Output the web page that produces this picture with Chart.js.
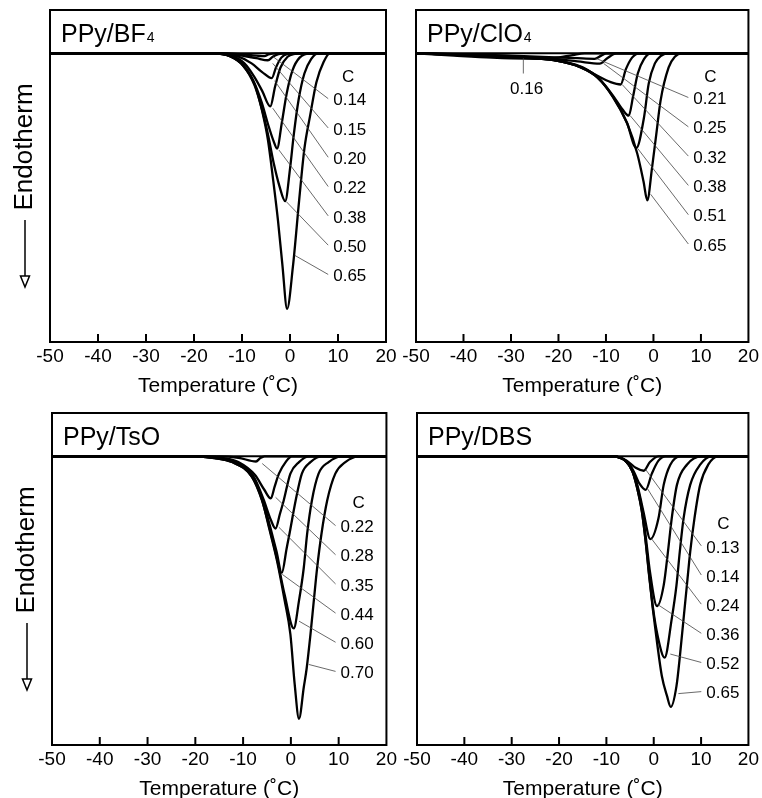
<!DOCTYPE html>
<html lang="en">
<head>
<meta charset="UTF-8">
<title>DSC curves of PPy films</title>
<script src="https://cdn.jsdelivr.net/npm/chart.js@4.4.0/dist/chart.umd.min.js"></script>
<style>
  html, body { margin: 0; padding: 0; background: #fff; overflow: hidden; }
  #page { position: relative; width: 762px; height: 798px; overflow: hidden; }
  .panel { position: absolute; }
</style>
</head>
<body>
<div id="page">
  <div class="panel" style="left:0;top:0;width:400px;height:400px"><canvas id="c1"></canvas></div>
  <div class="panel" style="left:396px;top:0;width:366px;height:400px"><canvas id="c2"></canvas></div>
  <div class="panel" style="left:0;top:400px;width:400px;height:402px"><canvas id="c3"></canvas></div>
  <div class="panel" style="left:396px;top:400px;width:366px;height:402px"><canvas id="c4"></canvas></div>
</div>
<script>
// x ticks shared by all four panels
const tempTicks = [-50, -40, -30, -20, -10, 0, 10, 20];

// PPy/BF4 : water content C and curves as [temperature, heat flow] (arb. units, 0 = baseline)
const bf4Conc = ['0.14', '0.15', '0.20', '0.22', '0.38', '0.50', '0.65'];
const bf4Curves = [
  [[-50,0],[-13,0],[-9,-0.5],[-5.3,-1.0],[-4.5,-0.4],[-2.8,0],[20,0]],
  [[-50,0],[-14,0],[-10,-0.8],[-7,-1.7],[-4.6,-2.4],[-3.6,-1.2],[-2.4,-0.3],[-1,0],[20,0]],
  [[-50,0],[-15,0],[-11,-1],[-8,-3.5],[-5.8,-6.5],[-3.8,-8.6],[-2.9,-4.8],[-1.8,-1.5],[-0.5,-0.2],[1,0],[20,0]],
  [[-50,0],[-16,0],[-12,-1],[-9.5,-3.5],[-7.5,-8],[-5.8,-13],[-4.1,-18.4],[-3.1,-11.5],[-2,-5],[-0.5,-1.2],[1,-0.2],[2.7,0],[20,0]],
  [[-50,0],[-16,0],[-12.5,-1],[-9.8,-4],[-7.5,-10],[-5.9,-17],[-4.5,-25],[-3.4,-30.5],[-2.7,-33],[-1.7,-24],[-0.7,-14],[0.5,-6],[2,-1.5],[4.4,0],[20,0]],
  [[-50,0],[-16,0],[-12.5,-1],[-9.8,-4.2],[-7.4,-11],[-5.9,-19],[-4.6,-28],[-3.4,-38],[-2.2,-46],[-1.0,-51.2],[0,-40],[0.8,-28],[1.8,-16],[3,-7],[4.4,-2],[5.9,0],[20,0]],
  [[-50,0],[-16,0],[-12.5,-1],[-9.8,-4.2],[-7.3,-11],[-5.8,-20],[-4.6,-30],[-3.5,-44],[-2.5,-58],[-1.6,-73],[-0.6,-88.5],[0.6,-74],[1.9,-51],[3.0,-33],[4.2,-21.5],[5.5,-10],[7,-3],[8.3,0],[20,0]]
];

// PPy/ClO4
const clo4Conc = ['0.16', '0.21', '0.25', '0.32', '0.38', '0.51', '0.65'];
const clo4Curves = [
  [[-50,0],[-42,-0.8],[-34,-1.5],[-27,-1.8],[-21,-1.6],[-17,-0.6],[-14.5,0],[20,0]],
  [[-50,0],[-40,-0.3],[-30,-0.8],[-22,-1.3],[-16,-1.7],[-12.4,-1.9],[-11,-0.8],[-9.9,0],[20,0]],
  [[-50,0],[-40,-0.4],[-30,-1.0],[-22,-1.8],[-16,-2.8],[-11.3,-3.6],[-9.8,-1.8],[-7.8,0],[20,0]],
  [[-50,0],[-40,-0.5],[-29.4,-1.3],[-21,-2.3],[-15.3,-4.6],[-11.8,-7.8],[-9,-10],[-6.9,-10.8],[-5.8,-5.5],[-4.5,-1.5],[-3,0],[20,0]],
  [[-50,0],[-40,-0.6],[-29.4,-1.4],[-21,-2.4],[-15.3,-4.8],[-11.8,-8.2],[-8.6,-14.5],[-6.5,-19.5],[-5.2,-21.6],[-4.3,-15],[-3.3,-7],[-2,-2],[-0.5,0],[20,0]],
  [[-50,0],[-40,-0.6],[-29.4,-1.4],[-21,-2.4],[-15.3,-4.9],[-11.8,-8.3],[-8.6,-15],[-5.6,-24],[-3.6,-32.8],[-2.0,-22.3],[-1.0,-10.5],[0.3,-3.5],[1.5,-1],[3,0],[20,0]],
  [[-50,0],[-40,-0.6],[-29.4,-1.4],[-21,-2.4],[-15.3,-4.9],[-11.8,-8.4],[-8.4,-15.3],[-5.5,-24.4],[-3.4,-34.8],[-2.1,-44.3],[-1.3,-50.9],[-0.3,-39.7],[0.6,-28],[1.5,-16.4],[3.2,-4.9],[4.5,-1.2],[6,0],[20,0]]
];

// PPy/TsO
const tsoConc = ['0.22', '0.28', '0.35', '0.44', '0.60', '0.70'];
const tsoCurves = [
  [[-50,0],[-15,0],[-11,-0.5],[-7.3,-1.8],[-6.4,-0.6],[-5.5,0],[20,0]],
  [[-50,0],[-18,0],[-14,-0.6],[-11,-2],[-7.5,-6.5],[-5.6,-11.5],[-4.2,-14.6],[-3.4,-10.5],[-2.5,-6],[-1.1,-2],[0.2,0],[20,0]],
  [[-50,0],[-19,0],[-15,-0.6],[-11.5,-2],[-7.8,-7],[-5.7,-15],[-4.2,-22],[-3.2,-25],[-2.3,-20],[-1.5,-15.3],[-0.1,-6],[1.7,-2],[3.8,0],[20,0]],
  [[-50,0],[-20,0],[-15.5,-0.6],[-12,-2],[-8,-7],[-5.9,-15],[-4.4,-24],[-3,-33],[-1.9,-40.4],[-0.9,-32],[-0.3,-26.9],[1.0,-15.3],[2.3,-6],[4.1,-2],[6.5,0],[20,0]],
  [[-50,0],[-20.6,0],[-16,-0.6],[-12.3,-2],[-8.2,-7],[-6.1,-15],[-4.6,-24],[-2.9,-35.5],[-1.3,-48],[0.6,-59.6],[1.7,-50],[2.7,-38.6],[3.4,-26.9],[4.4,-15.3],[5.8,-6],[7.9,-2],[10.6,0],[20,0]],
  [[-50,0],[-20.6,0],[-16,-0.6],[-12.3,-2],[-8.1,-7.2],[-6,-15.3],[-4.6,-24.6],[-2.9,-36.2],[-1.3,-50],[-0.1,-61.7],[0.8,-79],[1.7,-90.9],[2.7,-80],[3.3,-73.5],[4.1,-61.7],[4.8,-50],[5.5,-38.6],[6.4,-26.9],[7.6,-15.3],[9.3,-6],[11.4,-2],[14.2,0],[20,0]]
];

// PPy/DBS
const dbsConc = ['0.13', '0.14', '0.24', '0.36', '0.52', '0.65'];
const dbsCurves = [
  [[-50,0],[-8.4,0],[-5.7,-1.5],[-3.8,-4],[-2.1,-5],[-0.8,-2],[1,0],[20,0]],
  [[-50,0],[-8.5,0],[-5.8,-1.6],[-4.3,-5],[-3.0,-9.5],[-1.7,-11.6],[-0.4,-6],[1.0,-1.5],[2.5,0],[20,0]],
  [[-50,0],[-8.7,0],[-5.9,-1.7],[-4.4,-5.2],[-3.3,-11],[-2.2,-19],[-0.7,-28.7],[1.0,-21.5],[2.1,-9.9],[3.5,-2.9],[5.6,0],[20,0]],
  [[-50,0],[-8.7,0],[-5.9,-1.7],[-4.5,-5.2],[-3.4,-11],[-2.4,-19],[-1.6,-29],[-0.8,-40],[0.7,-51.9],[2.1,-44.7],[3.0,-33.1],[3.8,-21.5],[4.9,-9.9],[7.0,-2.9],[10.1,0],[20,0]],
  [[-50,0],[-8.7,0],[-5.9,-1.7],[-4.5,-5.2],[-3.5,-11],[-2.5,-19],[-1.7,-29.5],[-1.0,-40.5],[-0.2,-52],[0.8,-62],[2.3,-69.7],[3.8,-56.3],[4.8,-44.7],[5.5,-33.1],[6.3,-21.5],[7.7,-9.9],[9.8,-2.9],[12.2,0],[20,0]],
  [[-50,0],[-8.7,0],[-5.9,-1.7],[-4.5,-5.2],[-3.5,-11],[-2.5,-19.2],[-1.7,-29.6],[-1.0,-41],[-0.2,-52.8],[0.7,-64.5],[1.7,-76],[2.8,-83],[3.6,-86.8],[4.8,-79.6],[5.6,-68],[6.3,-56.3],[7.0,-44.7],[7.7,-33.1],[8.6,-21.5],[9.8,-9.9],[11.5,-2.9],[13.6,0],[20,0]]
];

const FONT = "'Liberation Sans', Arial, Helvetica, sans-serif";
Chart.defaults.font.family = FONT;
Chart.defaults.color = '#000';

// label column + leader lines are annotations, placed in data units
const panels = [
  { id: 'c1', title: 'PPy/BF', sub: '4', conc: bf4Conc, curves: bf4Curves, endo: true,
    pad: { left: 50, right: 14, top: 10, bottom: 1 },
    labelT: 9.0, cT: 12.1, cD: -8.3, labelD: -16.4, step: -10.15,
    leaders: [[-3.5,-1.2],[-3.6,-3.5],[-3.2,-9.5],[-3.6,-19],[-2.3,-33.5],[-0.7,-51.5],[1.0,-70]] },
  { id: 'c2', title: 'PPy/ClO', sub: '4', conc: clo4Conc.slice(1), curves: clo4Curves, endo: false,
    pad: { left: 20, right: 13, top: 10, bottom: 1 },
    labelT: 8.4, cT: 12.0, cD: -8.4, labelD: -16.0, step: -10.15,
    leaders: [[-12,-1.8],[-10.5,-3.5],[-6.6,-10.8],[-4.9,-21.6],[-3.3,-33],[-0.6,-48.8]],
    extra: { text: clo4Conc[0], T: -26.7, d: -12.5, lineT: -27.4, from: -1.7, to: -7 } },
  { id: 'c3', title: 'PPy/TsO', sub: '', conc: tsoConc, curves: tsoCurves, endo: true,
    pad: { left: 52, right: 12, top: 13, bottom: 0 },
    labelT: 10.4, cT: 14.2, cD: -16.4, labelD: -24.7, step: -10.1,
    leaders: [[-6,-2.5],[-3.2,-14.2],[-2.5,-24.6],[-1.8,-40.9],[1.7,-57.1],[3.75,-72.1]] },
  { id: 'c4', title: 'PPy/DBS', sub: '', conc: dbsConc, curves: dbsCurves, endo: false,
    pad: { left: 21, right: 12, top: 13, bottom: 0 },
    labelT: 11.1, cT: 14.7, cD: -23.7, labelD: -31.7, step: -10.1,
    leaders: [[-1.7,-4.6],[-1.4,-11],[-0.5,-28.5],[0.7,-51.2],[3.5,-68.5],[5.2,-82.2]] }
];

function line(ctx, x1, y1, x2, y2) {
  ctx.beginPath(); ctx.moveTo(x1, y1); ctx.lineTo(x2, y2); ctx.stroke();
}

const decor = {
  id: 'decor',
  afterDatasetsDraw(chart, args, p) {
    const { ctx, chartArea: a, scales: { x, y } } = chart;
    ctx.save();
    ctx.strokeStyle = '#000';
    ctx.fillStyle = '#000';
    // frame, title band and inward ticks
    ctx.lineWidth = 2;
    ctx.strokeRect(a.left, a.top, a.right - a.left, a.bottom - a.top);
    line(ctx, a.left, y.getPixelForValue(0), a.right, y.getPixelForValue(0));
    tempTicks.slice(1, -1).forEach(t => {
      const px = x.getPixelForValue(t);
      line(ctx, px, a.bottom, px, a.bottom - 8);
    });
    // panel title
    ctx.textBaseline = 'alphabetic';
    ctx.textAlign = 'left';
    ctx.font = '25px ' + FONT;
    ctx.fillText(p.title, a.left + 11, a.top + 32);
    if (p.sub) {
      const w = ctx.measureText(p.title).width;
      ctx.font = '14px ' + FONT;
      ctx.fillText(p.sub, a.left + 11 + w + 1, a.top + 32);
    }
    // concentration labels with leader lines
    ctx.font = '17px ' + FONT;
    ctx.textBaseline = 'middle';
    ctx.textAlign = 'center';
    ctx.fillText('C', x.getPixelForValue(p.cT), y.getPixelForValue(p.cD));
    ctx.textAlign = 'left';
    const lx = x.getPixelForValue(p.labelT);
    p.conc.forEach((c, i) => {
      const ly = y.getPixelForValue(p.labelD + i * p.step);
      ctx.fillText(c, lx, ly);
      const [t, d] = p.leaders[i];
      ctx.strokeStyle = '#444';
      ctx.lineWidth = 0.8;
      line(ctx, lx - 5, ly - 2, x.getPixelForValue(t), y.getPixelForValue(d));
    });
    if (p.extra) {
      const e = p.extra;
      ctx.textAlign = 'center';
      ctx.fillText(e.text, x.getPixelForValue(e.T), y.getPixelForValue(e.d));
      const ex = x.getPixelForValue(e.lineT);
      line(ctx, ex, y.getPixelForValue(e.from), ex, y.getPixelForValue(e.to));
    }
    // "Endotherm" axis label with downward arrow
    if (p.endo) {
      const ax = a.left - 25;
      ctx.save();
      ctx.translate(ax, a.top + 137);
      ctx.rotate(-Math.PI / 2);
      ctx.textAlign = 'center';
      ctx.textBaseline = 'middle';
      ctx.font = '26px ' + FONT;
      ctx.fillText('Endotherm', 0, 0);
      ctx.restore();
      ctx.strokeStyle = '#000';
      ctx.lineWidth = 1.5;
      line(ctx, ax, a.top + 210, ax, a.top + 266);
      ctx.beginPath();
      ctx.moveTo(ax - 4.5, a.top + 266);
      ctx.lineTo(ax + 4.5, a.top + 266);
      ctx.lineTo(ax, a.top + 277);
      ctx.closePath();
      ctx.stroke();
    }
    ctx.restore();
  }
};

panels.forEach(p => {
  new Chart(document.getElementById(p.id), {
    type: 'line',
    data: {
      datasets: p.curves.map(pts => ({
        data: pts.map(([t, v]) => ({ x: t, y: v })),
        borderColor: '#000',
        borderWidth: 2.3,
        pointRadius: 0,
        fill: false,
        cubicInterpolationMode: 'monotone'
      }))
    },
    options: {
      responsive: true,
      maintainAspectRatio: false,
      animation: false,
      events: [],
      layout: { padding: p.pad },
      plugins: { legend: { display: false }, tooltip: { enabled: false }, decor: p },
      scales: {
        x: {
          type: 'linear', min: -50, max: 20,
          afterBuildTicks: s => { s.ticks = tempTicks.map(v => ({ value: v })); },
          ticks: { color: '#000', font: { size: 19 }, padding: 3, maxRotation: 0, autoSkip: false },
          grid: { display: false, drawTicks: false },
          border: { display: false },
          title: { display: true, text: 'Temperature (˚C)', color: '#000', font: { size: 21 }, padding: { top: 3, bottom: 0 } }
        },
        y: { type: 'linear', min: -100, max: 15, display: false }
      }
    },
    plugins: [decor]
  });
});
</script>
</body>
</html>
